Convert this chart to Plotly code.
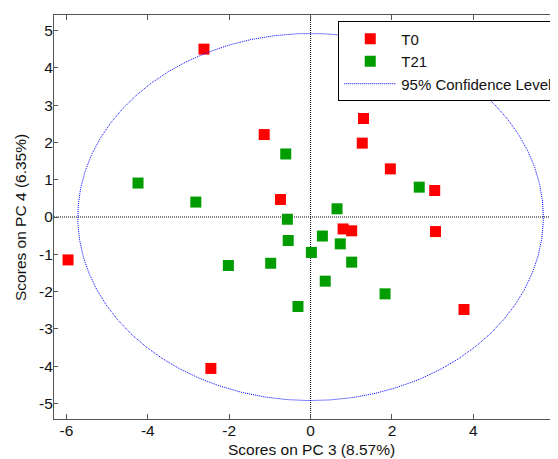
import numpy as np
import plotly.graph_objects as go

# Scores (PC3, PC4)
t0_x = [-2.62, -1.14, -0.74, 1.30, 1.27, 1.96, 3.05, 0.80, 1.01, 3.07, 3.77, -5.96, -2.45]
t0_y = [4.50, 2.21, 0.47, 2.64, 1.98, 1.29, 0.71, -0.32, -0.37, -0.39, -2.48, -1.15, -4.06]

t21_x = [-4.24, -2.82, -0.61, 0.65, -0.57, -0.55, 0.29, 0.73, 0.02, 1.01, -2.02, -0.98, 0.36, -0.31, 1.83, 2.67]
t21_y = [0.91, 0.40, 1.69, 0.22, -0.06, -0.63, -0.51, -0.72, -0.95, -1.21, -1.30, -1.24, -1.72, -2.40, -2.06, 0.80]

# 95% confidence ellipse (centre and semi-axes)
ell_center = (0.0, 0.0)
ell_axes = (5.72, 4.92)

x_ticks = [-6, -4, -2, 0, 2, 4, 6]
y_ticks = [-5, -4, -3, -2, -1, 0, 1, 2, 3, 4, 5]

x_title = "Scores on PC 3 (8.57%)"
y_title = "Scores on PC 4 (6.35%)"

FONT = "Liberation Sans, Arial, sans-serif"

t = np.linspace(0, 2 * np.pi, 600)
ex = ell_center[0] + ell_axes[0] * np.cos(t)
ey = ell_center[1] + ell_axes[1] * np.sin(t)

fig = go.Figure()
fig.add_trace(go.Scatter(
    x=t0_x, y=t0_y, mode="markers", name="T0",
    marker=dict(symbol="square", size=11, color="#ff0000", line=dict(width=0)),
))
fig.add_trace(go.Scatter(
    x=t21_x, y=t21_y, mode="markers", name="T21",
    marker=dict(symbol="square", size=11, color="#009c00", line=dict(width=0)),
))
fig.add_trace(go.Scatter(
    x=ex, y=ey, mode="lines", name="95% Confidence Level",
    line=dict(color="#0000ff", width=1, dash="1px,1px"),
))

fig.add_shape(type="line", xref="x", yref="paper", x0=0, x1=0, y0=0, y1=1,
              line=dict(color="black", width=1, dash="1px,1px"), layer="below")
fig.add_shape(type="line", xref="paper", yref="y", x0=0, x1=1, y0=0, y1=0,
              line=dict(color="black", width=1, dash="1px,1px"), layer="below")

fig.add_annotation(text=x_title, xref="paper", yref="paper", x=0.510, y=-0.0755,
                   xanchor="center", yanchor="middle", showarrow=False,
                   font=dict(family=FONT, size=15.5, color="#111111"))
fig.add_annotation(text=y_title, xref="paper", yref="paper", x=-0.0675, y=0.5,
                   xanchor="center", yanchor="middle", showarrow=False, textangle=-90,
                   font=dict(family=FONT, size=15.5, color="#111111"))

# page body adds an 8px offset; figure sized so the picture fills the window
fig.update_layout(
    width=550, height=451,
    margin=dict(l=46, r=0, t=7, b=40, autoexpand=False),
    paper_bgcolor="white", plot_bgcolor="white",
    font=dict(family=FONT, size=15, color="#111111"),
    showlegend=True,
    legend=dict(
        x=0.564, y=0.984, xanchor="left", yanchor="top",
        bgcolor="white", bordercolor="black", borderwidth=1,
        font=dict(family=FONT, size=15, color="#111111"),
        itemwidth=52, tracegroupgap=0, traceorder="normal",
    ),
    xaxis=dict(
        range=[-6.305, 6.08], tickvals=x_ticks, ticktext=[str(v) for v in x_ticks],
        showgrid=False, zeroline=False, showline=True, linecolor="#555555", linewidth=1.2,
        mirror="ticks", ticks="inside", ticklen=5, tickcolor="#555555",
        tickfont=dict(size=15.5), ticklabeloverflow="allow", ticklabelstandoff=-3,
    ),
    yaxis=dict(
        range=[-5.415, 5.415], tickvals=y_ticks, ticktext=[str(v) for v in y_ticks],
        showgrid=False, zeroline=False, showline=True, linecolor="#555555", linewidth=1.2,
        mirror=False, ticks="inside", ticklen=4, tickcolor="#555555",
        tickfont=dict(size=15.5), ticklabelstandoff=-3,
    ),
)

fig.write_html("out.html")
